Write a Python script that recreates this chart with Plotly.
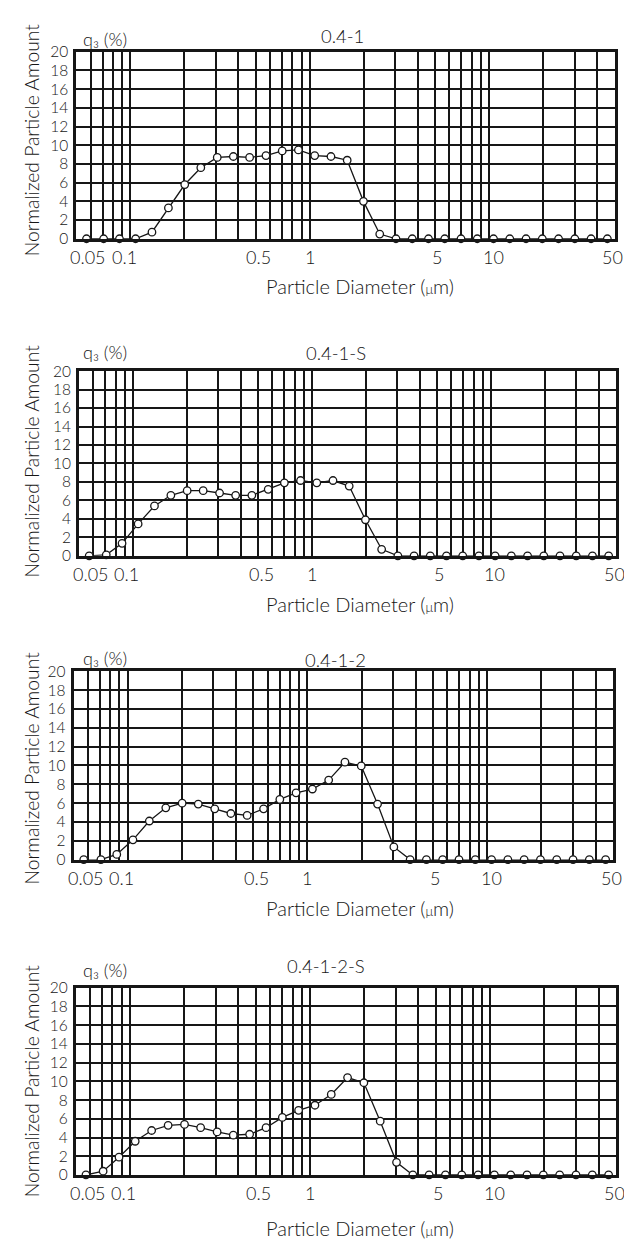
import math
import plotly.graph_objects as go

# ---------------- data ----------------
diameter_um = [0.057, 0.071, 0.087, 0.107, 0.132, 0.163, 0.201, 0.247, 0.305, 0.375,
               0.462, 0.570, 0.702, 0.864, 1.065, 1.312, 1.616, 1.991, 2.453, 3.022,
               3.723, 4.586, 5.649, 6.96, 8.575, 10.56, 13.01, 16.03, 19.75, 24.33,
               29.98, 36.93, 45.5]

q3_04_1 = [0, 0, 0, 0, 0.7, 3.3, 5.8, 7.6, 8.7, 8.8, 8.7, 8.9, 9.4, 9.5, 8.9, 8.8, 8.4,
           4.0, 0.5, 0, 0, 0, 0, 0, 0, 0, 0, 0, 0, 0, 0, 0, 0]
q3_04_1_S = [0, 0.1, 1.35, 3.45, 5.4, 6.55, 7.05, 7.05, 6.8, 6.55, 6.55, 7.2, 7.9, 8.15,
             7.9, 8.15, 7.55, 3.9, 0.7, 0, 0, 0, 0, 0, 0, 0, 0, 0, 0, 0, 0, 0, 0]
q3_04_1_2 = [0, 0, 0.55, 2.1, 4.1, 5.5, 6.0, 5.9, 5.4, 4.9, 4.7, 5.4, 6.4, 7.1, 7.5, 8.45,
             10.35, 9.95, 5.9, 1.35, 0, 0, 0, 0, 0, 0, 0, 0, 0, 0, 0, 0, 0]
q3_04_1_2_S = [0, 0.4, 1.9, 3.6, 4.75, 5.3, 5.4, 5.05, 4.6, 4.25, 4.35, 5.05, 6.15, 6.9,
               7.45, 8.6, 10.4, 9.85, 5.75, 1.35, 0, 0, 0, 0, 0, 0, 0, 0, 0, 0, 0, 0, 0]

sample_names = ["0.4-1", "0.4-1-S", "0.4-1-2", "0.4-1-2-S"]
series = [q3_04_1, q3_04_1_S, q3_04_1_2, q3_04_1_2_S]

x_tick_vals = [0.05, 0.1, 0.5, 1, 5, 10, 50]
x_tick_text = ["0.05", "0.1", "0.5", "1", "5", "10", "50"]
x_minor_vals = [0.06, 0.07, 0.08, 0.09, 0.2, 0.3, 0.4, 0.6, 0.7, 0.8, 0.9,
                2, 3, 4, 6, 7, 8, 9, 20, 30, 40]
y_tick_vals = [0, 2, 4, 6, 8, 10, 12, 14, 16, 18, 20]

# ---------------- layout (pixel geometry) ----------------
W, H = 632, 1241
FONT = "Lato, 'Noto Sans', 'DejaVu Sans', sans-serif"
INK = "#161616"
TEXT_W = 300

# left, right, top, bottom of each plot area in pixels
boxes = [(68.3, 606.7, 34.3, 224.0),
         (71.0, 608.0, 358.3, 545.7),
         (65.5, 605.0, 663.0, 854.0),
         (67.7, 608.0, 984.0, 1174.0)]
title_pos = [(334, 18), (328, 340), (327, 651), (318, 962)]
q3_pos = [(73, 21), (73, 339), (73, 649), (73, 966)]
xtitle_pos = [(352, 272), (352, 595), (352, 903), (352, 1228)]
ytitle_offset = [-5, -2, 3, 0]
# small horizontal offsets (px) of the printed x tick labels
x_label_shift = [12, -6, 3, 0, 2, 4, -2]


def px(x):
    return x / W


def py(y):
    return 1 - y / H


def font(size):
    return dict(family=FONT, size=size, color=INK, weight=TEXT_W)


fig = go.Figure()
annotations = []

for i, (name, vals) in enumerate(zip(sample_names, series)):
    n = i + 1
    xa = "x" if n == 1 else f"x{n}"
    ya = "y" if n == 1 else f"y{n}"
    l, r, t, b = boxes[i]

    fig.add_trace(go.Scatter(
        x=diameter_um, y=vals, xaxis=xa, yaxis=ya, mode="lines+markers",
        line=dict(color=INK, width=1.3),
        marker=dict(symbol="circle", size=7.5, color="white",
                    line=dict(color=INK, width=1.3)),
        showlegend=False, cliponaxis=False,
    ))

    xkey = "xaxis" if n == 1 else f"xaxis{n}"
    ykey = "yaxis" if n == 1 else f"yaxis{n}"
    fig.update_layout({
        xkey: dict(
            type="log", domain=[px(l), px(r)], anchor=ya,
            range=[math.log10(0.05), math.log10(50)],
            tickmode="array", tickvals=x_tick_vals, showticklabels=False,
            showgrid=True, gridcolor=INK, gridwidth=2.0,
            minor=dict(tickmode="array", tickvals=x_minor_vals, showgrid=True,
                       gridcolor=INK, gridwidth=1.5, ticks=""),
            ticks="", showline=True, mirror=True, linecolor=INK, linewidth=2.8,
            zeroline=False, fixedrange=True,
        ),
        ykey: dict(
            domain=[py(b), py(t)], anchor=xa, range=[0, 20],
            tickmode="array", tickvals=y_tick_vals,
            showgrid=True, gridcolor=INK, gridwidth=1.6,
            zeroline=True, zerolinecolor=INK, zerolinewidth=2.8,
            ticks="", showline=True, mirror=True, linecolor=INK, linewidth=2.8,
            tickfont=font(15.5), ticklabelstandoff=2, fixedrange=True,
        ),
    })

    # x tick labels
    for val, txt, sh in zip(x_tick_vals, x_tick_text, x_label_shift):
        annotations.append(dict(text=txt, x=math.log10(val), y=0, xref=xa,
                                yref=f"{ya} domain", xanchor="center", yanchor="middle",
                                xshift=sh, yshift=-18, showarrow=False, font=font(18)))

    tx, ty = title_pos[i]
    annotations.append(dict(text=name, x=px(tx), y=py(ty), xref="paper", yref="paper",
                            xanchor="center", yanchor="middle", showarrow=False,
                            font=font(18.5)))
    qx, qy = q3_pos[i]
    annotations.append(dict(text="q₃ (%)", x=px(qx), y=py(qy),
                            xref="paper", yref="paper", xanchor="left", yanchor="middle",
                            showarrow=False, font=font(18)))
    xx, xy = xtitle_pos[i]
    annotations.append(dict(text="Particle Diameter (<span style='font-size:13px'>μ</span>m)",
                            x=px(xx), y=py(xy),
                            xref="paper", yref="paper", xanchor="center", yanchor="middle",
                            showarrow=False, font=font(20)))
    annotations.append(dict(text="Normalized Particle Amount", x=px(23),
                            y=py((t + b) / 2 + ytitle_offset[i]),
                            xref="paper", yref="paper", xanchor="center", yanchor="middle",
                            textangle=-90, showarrow=False, font=font(19.3)))

fig.update_layout(
    width=W, height=H, margin=dict(l=0, r=0, t=0, b=0),
    paper_bgcolor="white", plot_bgcolor="white",
    annotations=annotations, showlegend=False,
)

fig.write_html("out.html")
